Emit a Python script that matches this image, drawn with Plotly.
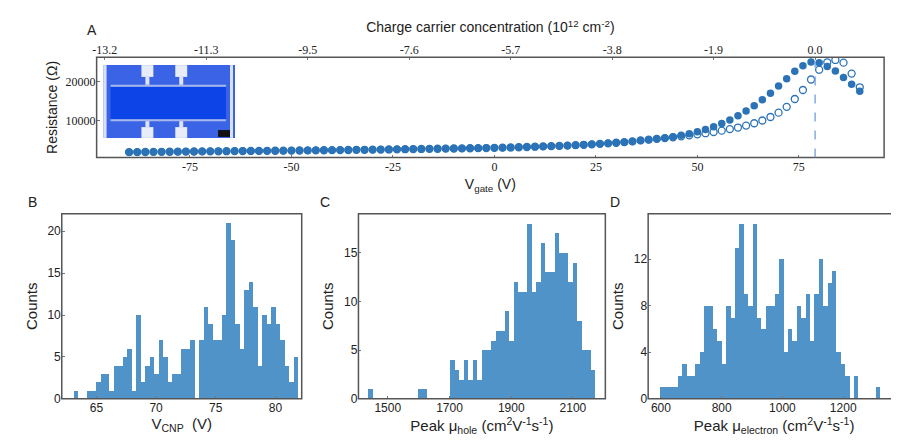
import plotly.graph_objects as go

W, H = 899, 445
BAR = "#4f93c8"
DOT = "#2b73b6"
FONT = "Liberation Sans"

# panel A: gate sweep
v_gate = list(range(-90, 92, 2))
r_fwd = [1900, 1920, 1940, 1960, 1980, 2000, 2020, 2040, 2060, 2080, 2100, 2120, 2140, 2160, 2180,
         2200, 2220, 2240, 2260, 2280,
         2300, 2320, 2340, 2360, 2380, 2400, 2420, 2450, 2480, 2500, 2530, 2560, 2590, 2620, 2650,
         2680, 2710, 2740, 2770, 2800, 2830, 2860, 2890, 2920, 2950,
         3000, 3050, 3100, 3150, 3220, 3290, 3360, 3430, 3500, 3580, 3680, 3780, 3900, 4020, 4150,
         4300, 4450, 4650, 4850, 5050, 5300, 5550, 5850, 6200, 6600,
         7100, 7700, 8400, 9200, 10100, 11200, 12400, 13800, 15300, 17000, 18800, 20700, 22600,
         24000, 25000, 24800, 23800, 22700, 21000, 19300, 17500]
r_bwd = r_fwd[:63] + [4900, 5100, 5300, 5500, 5700, 5950, 6200, 6450, 6750, 7050, 7400, 7800, 8200,
                      8700, 9300, 10000, 10900, 12000, 13500, 15500, 17800, 20500, 23000, 24900,
                      25500, 24800, 22000, 18500]
CNP_V, CNP_R = 79, 25000
top_tickvals = [-96, -71, -46, -21, 4, 29, 54, 79]
top_ticktext = ["-13.2", "-11.3", "-9.5", "-7.6", "-5.7", "-3.8", "-1.9", "0.0"]

# panel B: V_CNP histogram
b_start, b_width = 63.07, 0.376
b_counts = [1, 0, 0, 1, 1, 2, 3, 3, 1, 4, 4, 5, 6, 1, 10, 2, 4, 5, 3, 7, 5, 2, 3, 3, 6,
            6, 7, 0, 7, 11, 9, 7, 7, 10, 21, 19, 9, 6, 13, 14, 11, 4, 10, 9, 11, 9, 7, 4, 2, 5]

# panel C: hole mobility histogram
c_start, c_width = 1439, 14.7
c_counts = [1, 0, 0, 0, 0, 0, 0, 0, 0, 0, 0, 1, 1, 0, 0, 0, 0, 0,
            4, 3, 2, 4, 2, 4, 2, 5, 5, 6, 7, 7, 9, 6, 12, 11, 11, 18, 11, 12,
            16, 13, 13, 17, 15, 15, 12, 14, 8, 5, 5, 3]

# panel D: electron mobility histogram
d_start, d_width = 598, 14.5
d_counts = [1, 1, 1, 1, 2, 3, 2, 2, 3, 4, 8, 8, 6, 5, 3, 8, 7, 13, 15, 9,
            8, 15, 7, 6, 8, 8, 9, 12, 4, 6, 5, 8, 7, 9, 5, 9, 12, 8, 10, 11,
            4, 3, 2, 0, 2, 0, 0, 0, 0, 1]

PANELS = {"A": (85, 876, 50, 152), "B": (50, 291, 209, 397),
          "C": (348, 596, 209, 397), "D": (639, 892, 209, 397)}


def px(x0, x1):
    return [x0 / W, x1 / W]


def py(top, bottom):
    return [1 - bottom / H, 1 - top / H]


def centers(start, width, n):
    return [start + width * (i + 0.5) for i in range(n)]


fig = go.Figure()

fig.add_trace(go.Scatter(x=v_gate, y=r_bwd, mode="markers", xaxis="x", yaxis="y",
                         marker=dict(symbol="circle-open", size=7, color=DOT, line=dict(width=1.3))))
fig.add_trace(go.Scatter(x=v_gate, y=r_fwd, mode="markers", xaxis="x", yaxis="y",
                         marker=dict(symbol="circle", size=7.5, color=DOT)))
fig.add_trace(go.Scatter(x=[None], y=[None], xaxis="x5", yaxis="y"))

for i, (start, width, counts) in enumerate([(b_start, b_width, b_counts),
                                            (c_start, c_width, c_counts),
                                            (d_start, d_width, d_counts)], start=2):
    fig.add_trace(go.Bar(x=centers(start, width, len(counts)), y=counts, width=width,
                         marker=dict(color=BAR, line=dict(width=0)),
                         xaxis=f"x{i}", yaxis=f"y{i}"))

frame = dict(showline=False, showgrid=False, zeroline=False, ticks="inside", ticklen=3,
             tickcolor="#777", tickfont=dict(size=12, color="#222"))
narrow = dict(family="Liberation Sans Narrow", size=12, color="#222")
A, B, C, D = PANELS["A"], PANELS["B"], PANELS["C"], PANELS["D"]

fig.update_layout(
    width=W, height=H, margin=dict(l=0, r=0, t=0, b=0),
    paper_bgcolor="white", plot_bgcolor="white", showlegend=False, bargap=0,
    font=dict(family=FONT, color="#222"),
    xaxis=dict(frame, domain=px(A[0], A[1]), range=[-98, 96], tickvals=[-75, -50, -25, 0, 25, 50, 75],
               ticktext=["-75", "-50", "-25", "0", "25", "50", "75"], tickfont=narrow,
               title=dict(text="V<sub>gate</sub> (V)", font=dict(size=14), standoff=6)),
    yaxis=dict(frame, domain=py(A[2], A[3]), range=[500, 26200], tickvals=[10000, 20000],
               ticktext=["10000", "20000"], tickfont=narrow,
               title=dict(text="Resistance (Ω)", font=dict(size=14), standoff=4)),
    xaxis5=dict(overlaying="x", side="top", range=[-98, 96], tickvals=top_tickvals,
                ticktext=top_ticktext, showgrid=False, zeroline=False, ticks="inside", ticklen=3,
                tickcolor="#777", tickfont=narrow,
                title=dict(text="Charge carrier concentration (10<sup>12</sup> cm<sup>-2</sup>)",
                           font=dict(size=14), standoff=6)),
    xaxis2=dict(frame, domain=px(B[0], B[1]), range=[62.1, 82.2], tickvals=[65, 70, 75, 80],
                anchor="y2", title=dict(text="V<sub>CNP</sub>  (V)", font=dict(size=15), standoff=4)),
    yaxis2=dict(frame, domain=py(B[2], B[3]), range=[0, 22.1], tickvals=[0, 5, 10, 15, 20],
                anchor="x2", title=dict(text="Counts", font=dict(size=15), standoff=6)),
    xaxis3=dict(frame, domain=px(C[0], C[1]), range=[1405, 2205], tickvals=[1500, 1700, 1900, 2100],
                anchor="y3", title=dict(text="Peak μ<sub>hole</sub> (cm<sup>2</sup>V<sup>-1</sup>s<sup>-1</sup>)",
                                        font=dict(size=15), standoff=4)),
    yaxis3=dict(frame, domain=py(C[2], C[3]), range=[0, 19], tickvals=[0, 5, 10, 15],
                anchor="x3", title=dict(text="Counts", font=dict(size=15), standoff=6)),
    xaxis4=dict(frame, domain=px(D[0], D[1]), range=[558, 1387], tickvals=[600, 800, 1000, 1200],
                anchor="y4", title=dict(text="Peak μ<sub>electron</sub> (cm<sup>2</sup>V<sup>-1</sup>s<sup>-1</sup>)",
                                        font=dict(size=15), standoff=4)),
    yaxis4=dict(frame, domain=py(D[2], D[3]), range=[0, 15.9], tickvals=[0, 4, 8, 12],
                anchor="x4", title=dict(text="Counts", font=dict(size=15), standoff=6)),
)

# panel frames
for x0, x1, top, bottom in PANELS.values():
    fig.add_shape(type="rect", xref="paper", yref="paper", x0=x0 / W, x1=x1 / W,
                  y0=1 - bottom / H, y1=1 - top / H, fillcolor="rgba(0,0,0,0)",
                  line=dict(color="#555555", width=1.5), layer="above")

# CNP marker line
fig.add_shape(type="line", xref="x", yref="y", x0=CNP_V, x1=CNP_V, y0=500, y1=CNP_R,
              line=dict(color="#6f9fe0", width=1.3, dash="dash"))


# device micrograph inset (drawn as blocks)
def rect(x0, y0, x1, y1, color):
    fig.add_shape(type="rect", xref="paper", yref="paper", x0=x0 / W, x1=x1 / W,
                  y0=1 - y1 / H, y1=1 - y0 / H, fillcolor=color, line=dict(width=0), layer="above")


rect(92, 58, 224, 132, "#3a63e6")
rect(92, 58, 95, 132, "#d8e0f5")
rect(219, 58, 222, 132, "#d8e0f5")
rect(99, 80, 215, 113, "#0d44e8")
rect(99, 78, 215, 80, "#a8b8ee")
rect(99, 113, 215, 115, "#a8b8ee")
for x in (136, 170):
    rect(x - 6, 58, x + 6, 70, "#e8ecf7")
    rect(x - 2, 70, x + 2, 78, "#dfe5f5")
    rect(x - 6, 121, x + 6, 132, "#e8ecf7")
    rect(x - 2, 115, x + 2, 121, "#dfe5f5")
rect(207, 124, 219, 131, "#111111")

for text, x, y in [("A", 73, 12), ("B", 14, 197), ("C", 314, 197), ("D", 613, 197)]:
    fig.add_annotation(text=text, x=x / W, y=1 - y / H, xref="paper", yref="paper",
                       showarrow=False, font=dict(size=14, color="#222"))

fig.write_html("out.html")
